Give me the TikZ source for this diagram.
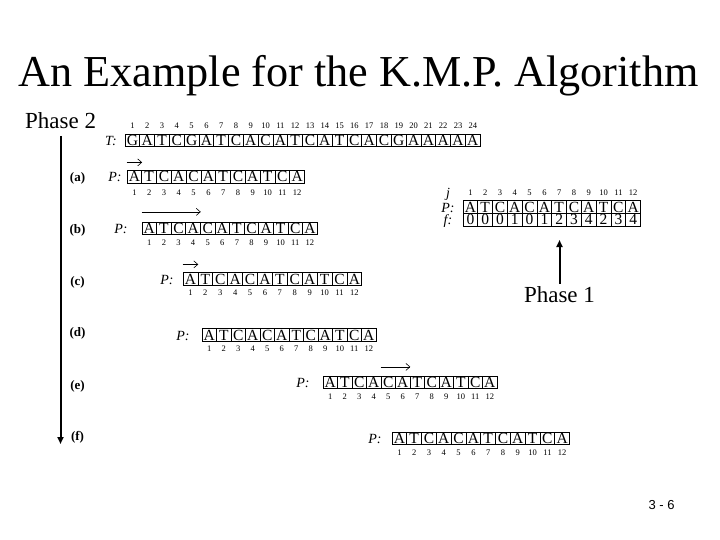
\documentclass[tikz,border=0pt]{standalone}
\usepackage{fontspec}
\setmainfont{Liberation Serif}
\newfontfamily\sansf{Liberation Sans}
\usetikzlibrary{arrows.meta}
\tikzset{
 cell/.style={draw, line width=0.7pt, inner sep=0pt, minimum height=12.5pt, text height=10pt, text depth=0pt, font=\fontsize{15.5}{15.5}\selectfont},
 num/.style={inner sep=0pt, font=\fontsize{8.5}{9}\selectfont},
 plab/.style={inner sep=0pt, text height=10pt, text depth=0pt, font=\fontsize{14}{14}\selectfont\itshape},
 rlab/.style={inner sep=0pt, font=\fontsize{13}{13}\selectfont\bfseries},
 shiftarrow/.style={-{Straight Barb[length=4pt,width=7pt]}, line width=0.6pt},
 phase/.style={inner sep=0pt, font=\fontsize{23}{23}\selectfont},
 bigarrow/.style={line width=2pt, -{Triangle[length=7pt,width=6pt]}}
}
\newcommand\cellrow[5]{%
  \foreach \c [count=\i] in #5 {
    \node[cell, minimum width=#4pt] (#1\i) at ({#2+(\i-0.5)*#4},#3) {\c};
  }}
\newcommand\numrow[3]{%
  \foreach \i in {1,...,#2} {\node[num] (#1n\i) at ([yshift=#3]#1\i.center) {\i};}}
\def\Pstr{A,T,C,A,C,A,T,C,A,T,C,A}
\def\Tstr{G,A,T,C,G,A,T,C,A,C,A,T,C,A,T,C,A,C,G,A,A,A,A,A}
\def\fstr{0,0,0,1,0,1,2,3,4,2,3,4}
\begin{document}
\begin{tikzpicture}[x=1pt,y=-1pt]
\useasboundingbox (0,0) rectangle (720,540);
\fill[white] (0,0) rectangle (720,540);
% title
\node[inner sep=0pt, anchor=base, font=\fontsize{44.2}{45}\selectfont] (title) at (358.5,87) {An Example for the K.M.P. Algorithm};
% phase 2
\node[phase, anchor=base west] (ph2) at (25,129) {Phase 2};
\coordinate (p2s) at (60.5,136);
\coordinate (p2e) at (60.5,444);
\draw[bigarrow] (p2s) -- (p2e);
% row labels
\node[rlab] (la) at (77.5,178) {(a)};
\node[rlab] (lb) at (77.5,230) {(b)};
\node[rlab] (lc) at (77.5,282) {(c)};
\node[rlab] (ld) at (77.5,333) {(d)};
\node[rlab] (le) at (77.5,386) {(e)};
\node[rlab] (lf) at (77.5,437) {(f)};
% T row
\node[plab] (Tl) at (111,140.5) {T:};
\cellrow{T}{125}{140.5}{14.8}{\Tstr}
\numrow{T}{24}{14.5pt}
% (a)
\node[plab] (Pa) at (115,177) {P:};
\cellrow{a}{127}{177}{14.8}{\Pstr}
\numrow{a}{12}{-16pt}
\draw[shiftarrow] ([yshift=8pt]a1.north west) -- ([yshift=8pt]a1.north east);
% (b)
\node[plab] (Pb) at (121,228.5) {P:};
\cellrow{b}{142}{228.5}{14.6}{\Pstr}
\numrow{b}{12}{-14.5pt}
\draw[shiftarrow] ([yshift=10pt]b1.north west) -- ([yshift=10pt]b4.north east);
% (c)
\node[plab] (Pc) at (167,279) {P:};
\cellrow{c}{183}{279}{14.9}{\Pstr}
\numrow{c}{12}{-14pt}
\draw[shiftarrow] ([yshift=8pt]c1.north west) -- ([yshift=8pt]c1.north east);
% (d)
\node[plab] (Pd) at (183,335) {P:};
\cellrow{d}{202}{335}{14.5}{\Pstr}
\numrow{d}{12}{-14pt}
% (e)
\node[plab] (Pe) at (303,382.5) {P:};
\cellrow{e}{323}{382.5}{14.5}{\Pstr}
\numrow{e}{12}{-14.5pt}
\draw[shiftarrow] ([yshift=9pt]e5.north west) -- ([yshift=9pt]e6.north east);
% (f)
\node[plab] (Pf) at (375,438.5) {P:};
\cellrow{f}{392}{438.5}{14.8}{\Pstr}
\numrow{f}{12}{-14.5pt}
% failure table
\node[plab] (jl) at (448,193) {j};
\node[plab] (tPl) at (448,207) {P:};
\node[plab] (tfl) at (448,220) {f:};
\cellrow{tp}{463}{207}{14.8}{\Pstr}
\begin{scope}[cell/.append style={minimum height=13.5pt}]
\cellrow{tf}{463}{220}{14.8}{\fstr}
\end{scope}
\numrow{tp}{12}{14.5pt}
% phase 1
\node[phase, anchor=base, inner sep=2pt] (ph1) at (559.5,302) {Phase 1};
\coordinate (p1e) at (559.5,240);
\draw[bigarrow] (ph1.north) -- (p1e);
% page number
\node[inner sep=0pt, font=\sansf\fontsize{13}{13}\selectfont] (pg) at (661.5,505) {3 - 6};
\end{tikzpicture}
\end{document}
